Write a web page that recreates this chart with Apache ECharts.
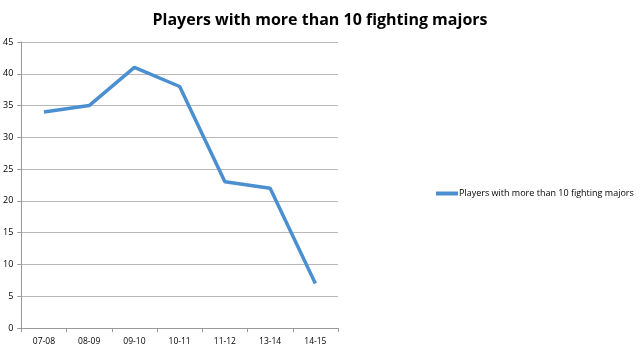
<!DOCTYPE html>
<html>
<head>
<meta charset="utf-8">
<script src="https://cdn.jsdelivr.net/npm/echarts@6/dist/echarts.min.js"></script>
<style>
  html, body { margin: 0; padding: 0; background: #fff; }
  #chart { width: 640px; height: 351px; }
</style>
</head>
<body>
<div id="chart"></div>
<script>
// data
var seasons = ['07-08', '08-09', '09-10', '10-11', '11-12', '13-14', '14-15'];
var players = [34, 35, 41, 38, 23, 22, 7];
var seriesName = 'Players with more than 10 fighting majors';

var chart = echarts.init(document.getElementById('chart'));
chart.setOption({
    animation: false,
    title: {
        text: 'Players with more than 10 fighting majors',
        left: 'center',
        top: 7,
        textStyle: { fontFamily: 'Open Sans', fontWeight: 'bold', fontSize: 16, color: '#000' }
    },
    legend: {
        data: [seriesName],
        orient: 'vertical',
        left: 431,
        top: 184,
        itemWidth: 22,
        itemHeight: 4,
        itemGap: 0,
        icon: 'rect',
        textStyle: { fontFamily: 'Open Sans', fontSize: 9, color: '#000', padding: [0, 0, 0, -4] }
    },
    grid: { left: 19, right: 302, top: 42, bottom: 23 },
    xAxis: {
        type: 'category',
        data: seasons,
        boundaryGap: true,
        axisLine: { lineStyle: { color: '#999', width: 1 } },
        axisTick: { show: true, alignWithLabel: false, length: 4, lineStyle: { color: '#999' } },
        axisLabel: { fontFamily: 'Open Sans', fontSize: 8.5, color: '#000', margin: 9 }
    },
    yAxis: {
        type: 'value',
        min: 0,
        max: 45,
        interval: 5,
        axisLine: { show: true, lineStyle: { color: '#999', width: 1 } },
        axisTick: { show: true, length: 4, lineStyle: { color: '#999' } },
        axisLabel: { fontFamily: 'Open Sans', fontSize: 9, color: '#000', margin: 8 },
        splitLine: { lineStyle: { color: '#b8b8b8', width: 1 } }
    },
    series: [{
        name: seriesName,
        type: 'line',
        data: players,
        symbol: 'none',
        lineStyle: { color: '#4a8fd0', width: 3.5 },
        itemStyle: { color: '#4a8fd0' }
    }]
});
</script>
</body>
</html>
